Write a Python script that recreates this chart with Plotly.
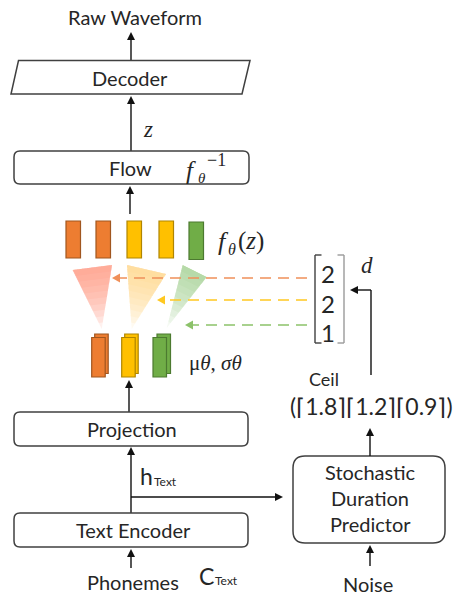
import plotly.graph_objects as go

# ---------------- data ----------------
durations = [2, 2, 1]                 # d vector shown in the bracket
ceil_values = [1.8, 1.2, 0.9]         # predicted (pre-ceil) durations
token_colors = ["#ED7D31", "#FFC000", "#70AD47"]
token_edges = ["#A0561F", "#B08500", "#4C7A30"]
dash_colors = ["#F0905A", "#FFC820", "#8CC26A"]
tri_colors = [(255, 150, 125), (255, 210, 120), (140, 200, 120)]
box_labels = ["Decoder", "Flow", "Projection", "Text Encoder"]
sdp_lines = ["Stochastic", "Duration", "Predictor"]

W, H = 458, 595
TXT = "#262626"
EDGE = "#404040"
SANS = "Lato"
SERIF = "Liberation Serif"
FS = 20

shapes = []
annots = []


def text(x, y, s, size=FS, font=SANS, color=TXT, anchor="center"):
    annots.append(dict(x=x, y=y, xref="x", yref="y", text=s, showarrow=False,
                       xanchor=anchor, yanchor="middle",
                       font=dict(family=font, size=size, color=color)))


def line(x0, y0, x1, y1, color=EDGE, width=1.4, dash="solid"):
    shapes.append(dict(type="line", x0=x0, y0=y0, x1=x1, y1=y1, xref="x", yref="y",
                       line=dict(color=color, width=width, dash=dash)))


def head(tx, ty, dx, dy, color="#111111", L=8, w=4):
    bx, by = tx - dx * L, ty - dy * L
    px, py = -dy, dx
    p = f"M {tx},{ty} L {bx+px*w},{by+py*w} L {bx-px*w},{by-py*w} Z"
    shapes.append(dict(type="path", path=p, xref="x", yref="y",
                       fillcolor=color, line=dict(width=0)))


def arrow(x0, y0, x1, y1, color="#111111", width=1.4, dash="solid"):
    dx, dy = x1 - x0, y1 - y0
    n = (dx * dx + dy * dy) ** 0.5
    dx, dy = dx / n, dy / n
    line(x0, y0, x1 - dx * 6, y1 - dy * 6, color, width, dash)
    head(x1, y1, dx, dy, color)


def rrect(x0, y0, x1, y1, r=6, color=EDGE, fill="white"):
    p = (f"M {x0+r},{y0} L {x1-r},{y0} Q {x1},{y0} {x1},{y0+r} L {x1},{y1-r} "
         f"Q {x1},{y1} {x1-r},{y1} L {x0+r},{y1} Q {x0},{y1} {x0},{y1-r} "
         f"L {x0},{y0+r} Q {x0},{y0} {x0+r},{y0} Z")
    shapes.append(dict(type="path", path=p, xref="x", yref="y",
                       fillcolor=fill, line=dict(color=color, width=1.5)))


def rect(x0, y0, x1, y1, fill, edge):
    shapes.append(dict(type="rect", x0=x0, y0=y0, x1=x1, y1=y1, xref="x", yref="y",
                       fillcolor=fill, line=dict(color=edge, width=1.2)))


def grad_tri(A, B, C, rgb, n=10, top_alpha=0.75):
    # nested trapezoids from top edge, each faint -> top dense, bottom faint
    a = 1 - (1 - top_alpha) ** (1.0 / n)
    for k in range(1, n + 1):
        t = k / n
        L = (A[0] + (C[0] - A[0]) * t, A[1] + (C[1] - A[1]) * t)
        R = (B[0] + (C[0] - B[0]) * t, B[1] + (C[1] - B[1]) * t)
        p = f"M {A[0]},{A[1]} L {B[0]},{B[1]} L {R[0]},{R[1]} L {L[0]},{L[1]} Z"
        shapes.append(dict(type="path", path=p, xref="x", yref="y",
                           fillcolor=f"rgba({rgb[0]},{rgb[1]},{rgb[2]},{a:.3f})",
                           line=dict(width=0)))


# ---------------- top: raw waveform / decoder / flow ----------------
text(135, 17, "Raw Waveform")
arrow(131, 60, 131, 32)
shapes.append(dict(type="path", path="M 18.5,60.5 L 250,60.5 L 242,94 L 11,94 Z",
                   xref="x", yref="y", fillcolor="white", line=dict(color=EDGE, width=1.5)))
text(130, 78, box_labels[0])
arrow(131, 151, 131, 96)
text(148, 129, "<i>z</i>", 23, SERIF)
rrect(14, 151, 249, 184)
text(130, 168, box_labels[1])
text(191, 170, "<i>f</i>", 25, SERIF)
text(201.5, 178, "<i>θ</i>", 15, SERIF)
text(216, 160, "−1", 18, SERIF)
arrow(130, 214, 130, 186)

# ---------------- f_theta(z) expanded bars ----------------
bar_x = [66, 96, 127, 159, 189]
expanded = []
for i, d in enumerate(durations):
    expanded += [i] * d
for j, tok in enumerate(expanded):
    x0 = bar_x[j]
    y0, y1 = (222, 259.5) if tok == 2 else (221, 258)
    rect(x0, y0, x0 + 14.5, y1, token_colors[tok], token_edges[tok])
text(223, 241, "<i>f</i>", 26, SERIF)
text(231.5, 249, "<i>θ</i>", 16, SERIF)
text(236, 241, "(<i>z</i>)", 25, SERIF, anchor="left")

# gradient triangles (alignment)
grad_tri((72.7, 270), (112, 265), (101.7, 329), tri_colors[0], top_alpha=0.75)
grad_tri((127, 265), (166, 274), (131.7, 329), tri_colors[1], top_alpha=0.7)
grad_tri((182.7, 265), (206.7, 277), (166.7, 328), tri_colors[2], top_alpha=0.6)

# dashed duration arrows
dash_y = [278, 300, 325]
dash_tip = [112, 157, 185]
for i in range(3):
    line(307, dash_y[i], dash_tip[i] + 6, dash_y[i], dash_colors[i], 1.6, "11px,7px")
    head(dash_tip[i], dash_y[i], -1, 0, dash_colors[i], L=8, w=4.5)

# duration bracket
line(315, 255, 315, 343, "#404040", 1.4)
line(315, 255, 321.5, 255, "#404040", 1.4)
line(315, 343, 321.5, 343, "#404040", 1.4)
line(344, 255, 344, 343, "#9A9A9A", 1.4)
line(337.5, 255, 344, 255, "#9A9A9A", 1.4)
line(337.5, 343, 344, 343, "#9A9A9A", 1.4)
num_y = [273, 303, 332]
for i, d in enumerate(durations):
    text(328, num_y[i], str(d), 24)
text(367, 265, "<i>d</i>", 23, SERIF)

# ceil -> d arrow
line(371, 375, 371, 290, "#111111", 1.4)
arrow(371, 290, 350, 290)
text(324, 379, "Ceil", 18)
ceil_str = "(" + "".join(f"⌈{v}⌉" for v in ceil_values) + ")"
text(371, 406, ceil_str, 23)

# ---------------- mu/sigma bars ----------------
mu_x = [91.7, 121.7, 153]
for i in range(3):
    x0 = mu_x[i]
    off = 4 if i == 2 else 3
    rect(x0 + off, 334, x0 + 13.5 + off, 373.5, token_colors[i], token_edges[i])
    rect(x0, 337.5, x0 + 13.5, 377, token_colors[i], token_edges[i])
text(187, 363, "μ<i>θ</i>, <i>σθ</i>", 21, SERIF, anchor="left")
arrow(129, 412, 129, 380)

# ---------------- projection / text encoder ----------------
rrect(14, 412, 248, 446)
text(132, 429, box_labels[2])
arrow(131, 513, 131, 447)
text(146.5, 476, "h", 23)
text(152, 481.5, "Text", 12, anchor="left")
arrow(131, 497, 283, 497)
rrect(14, 513, 248, 547)
text(133, 530, box_labels[3])
arrow(131, 568, 131, 549)
text(133, 582, "Phonemes")
text(206, 575.5, "C", 23)
text(212.5, 580.5, "Text", 12, anchor="left")

# ---------------- stochastic duration predictor ----------------
rrect(293, 456, 445, 543, r=12)
for i, s in enumerate(sdp_lines):
    text(370, 472 + 26 * i, s)
arrow(370, 456, 370, 428)
arrow(370, 566, 370, 545)
text(368, 584, "Noise")

fig = go.Figure()
fig.update_layout(
    width=W, height=H, margin=dict(l=0, r=0, t=0, b=0),
    paper_bgcolor="white", plot_bgcolor="white", showlegend=False,
    xaxis=dict(range=[0, W], visible=False, fixedrange=True),
    yaxis=dict(range=[H, 0], visible=False, fixedrange=True),
    shapes=shapes, annotations=annots,
)
fig.write_html(
    "out.html",
    config={"displayModeBar": False},
    post_script="document.body.style.margin='0';document.body.style.overflow='hidden';",
)
